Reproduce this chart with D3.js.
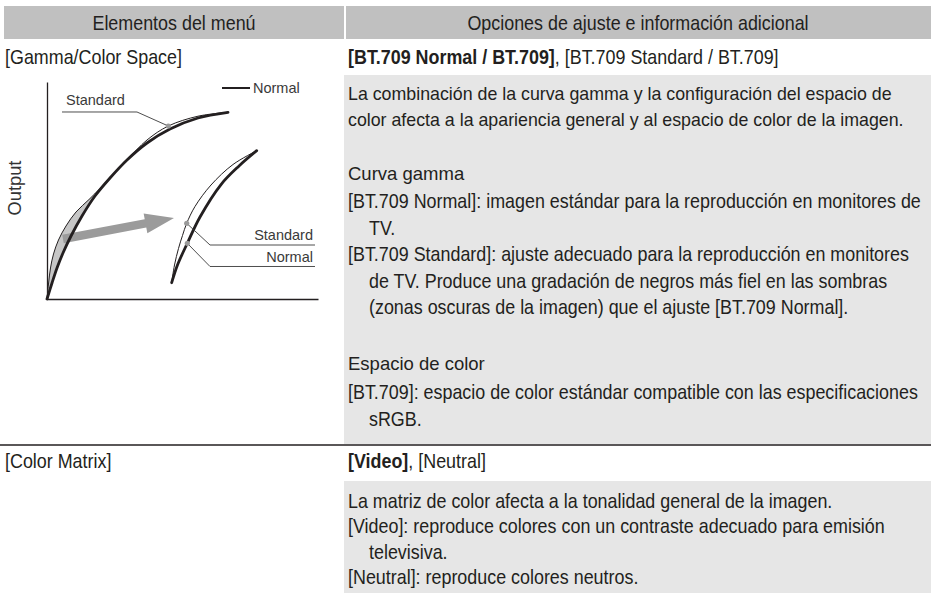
<!DOCTYPE html>
<html><head><meta charset="utf-8">
<script src="https://cdn.jsdelivr.net/npm/d3@7"></script>
<style>html,body{margin:0;padding:0;background:#fff;} svg{display:block}</style>
</head><body>
<svg id="c" width="931" height="593"></svg>
<script>
// ---------- DATA ----------
const headers = ["Elementos del menú", "Opciones de ajuste e información adicional"];
const menuItems = ["[Gamma/Color Space]", "[Color Matrix]"];
const gammaDefault = "[BT.709 Normal / BT.709]";
const gammaOthers = ", [BT.709 Standard / BT.709]";
const gammaIntro = ["La combinación de la curva gamma y la configuración del espacio de",
  "color afecta a la apariencia general y al espacio de color de la imagen."];
const gammaHeading = "Curva gamma";
const gammaItems = [
  ["[BT.709 Normal]: imagen estándar para la reproducción en monitores de", "TV."],
  ["[BT.709 Standard]: ajuste adecuado para la reproducción en monitores",
   "de TV. Produce una gradación de negros más fiel en las sombras",
   "(zonas oscuras de la imagen) que el ajuste [BT.709 Normal]."]];
const spaceHeading = "Espacio de color";
const spaceItems = [["[BT.709]: espacio de color estándar compatible con las especificaciones", "sRGB."]];
const matrixDefault = "[Video]";
const matrixOthers = ", [Neutral]";
const matrixIntro = ["La matriz de color afecta a la tonalidad general de la imagen."];
const matrixItems = [
  ["[Video]: reproduce colores con un contraste adecuado para emisión", "televisiva."],
  ["[Neutral]: reproduce colores neutros."]];

// diagram (input, output) in 0..100 units
const axisLabel = "Output";
const seriesNames = ["Normal", "Standard"];
const normalCurve = [[0,0],[1.85,7.37],[3.69,14.29],[5.90,21.20],[8.86,29.03],[12.92,38.25],[17.71,47.47],
  [23.25,55.76],[29.52,64.06],[36.90,71.89],[45.39,78.34],[55.72,83.41],[66.79,86.04]];
const standardCurve = [[0,0],[0.55,6.91],[1.29,14.29],[2.40,20.74],[4.24,27.19],[7.01,33.64],[10.70,40.09],
  [15.50,45.85],[19.56,50.92],[23.25,55.76],[29.52,64.06],[36.90,73.27],[44.76,79.72],[55.72,84.24],[66.79,86.04]];
const normalDetail = [[46.01,7.51],[48.15,15.67],[51.77,25.67],[56.46,37.79],[64.21,52.76],[70.85,61.29],[77.38,68.34]];
const standardDetail = [[46.01,7.51],[47.05,15.67],[48.52,23.27],[50.0,29.26],[51.55,34.88],[54.61,42.63],
  [60.52,52.53],[68.63,61.98],[77.38,68.34]];
const arrowTailTip = [[5.9,27.65],[46.86,37.33]];
const calloutStdMain = [[44.76,79.72],[33.21,86.18],[5.54,86.18]];
const calloutStdDetail = [[51.55,34.88],[60.15,24.88],[98.89,24.88]];
const calloutNormDetail = [[51.77,25.67],[60.15,14.98],[98.89,14.98]];

// ---------- DRAW ----------
const svg = d3.select("#c");
const INK = "#231f20";
const FAM = "'Liberation Sans', Arial, Helvetica, sans-serif";
const COND = {size: 20, sx: 0.895};
const REG = {size: 17.8, sx: 1};
const HEAD = {size: 18.5, sx: 1};

function txt(g, x, y, parts, o) {
  const t = g.append("text")
    .attr("transform", `translate(${x},${y}) scale(${o.sx || 1},1)`)
    .attr("font-family", FAM)
    .attr("font-size", o.size)
    .attr("fill", o.fill || INK)
    .attr("text-anchor", o.anchor || "start");
  parts.forEach(p => t.append("tspan").attr("font-weight", p[1] ? "bold" : "normal").text(p[0]));
  return t;
}

// header
svg.append("rect").attr("x", 4).attr("y", 6).attr("width", 340).attr("height", 33).attr("fill", "#c0c0c0");
svg.append("rect").attr("x", 346).attr("y", 6).attr("width", 585).attr("height", 33).attr("fill", "#c0c0c0");
txt(svg, 174, 30, [[headers[0]]], {...COND, anchor: "middle"});
txt(svg, 638, 30, [[headers[1]]], {...COND, anchor: "middle"});

// gray boxes + separator
svg.append("rect").attr("x", 344).attr("y", 75).attr("width", 587).attr("height", 369).attr("fill", "#e6e6e6");
svg.append("rect").attr("x", 344).attr("y", 481).attr("width", 587).attr("height", 112).attr("fill", "#e6e6e6");
svg.append("line").attr("x1", 0).attr("x2", 931).attr("y1", 445).attr("y2", 445).attr("stroke", INK).attr("stroke-width", 1.3);

// row 1
const XL = 5, XR = 348, XI = 369, L = 26.5;
txt(svg, XL, 63.5, [[menuItems[0]]], COND);
txt(svg, XR, 63.5, [[gammaDefault, true], [gammaOthers]], COND);
let y = 99.5;
gammaIntro.forEach((s, i) => { txt(svg, XR, y, [[s]], REG); if (i < gammaIntro.length - 1) y += L; });
y += 2 * L + 1;
txt(svg, XR, y, [[gammaHeading]], HEAD); y += 28;
gammaItems.forEach(item => item.forEach((s, i) => { txt(svg, i ? XI : XR, y, [[s]], COND); y += L; }));
y += L + 3;
txt(svg, XR, y, [[spaceHeading]], HEAD); y += 29;
spaceItems.forEach(item => item.forEach((s, i) => { txt(svg, i ? XI : XR, y, [[s]], COND); y += L; }));

// row 2
txt(svg, XL, 467.5, [[menuItems[1]]], COND);
txt(svg, XR, 467.5, [[matrixDefault, true], [matrixOthers]], COND);
y = 507.5;
const L2 = 25.5;
matrixIntro.forEach(s => { txt(svg, XR, y, [[s]], COND); y += L2; });
matrixItems.forEach(item => item.forEach((s, i) => { txt(svg, i ? XI : XR, y, [[s]], COND); y += L2; }));

// ---------- diagram ----------
const dx = d3.scaleLinear().domain([0, 100]).range([47, 318]);
const dy = d3.scaleLinear().domain([0, 100]).range([299, 82]);
const D = svg.append("g");

const ax = D.append("g").attr("transform", "translate(0,299)").call(d3.axisBottom(dx).ticks(0).tickSize(0).tickSizeOuter(0));
const ay = D.append("g").attr("transform", "translate(47,0)").call(d3.axisLeft(dy).ticks(0).tickSize(0).tickSizeOuter(0));
[ax, ay].forEach(a => { a.select(".domain").attr("stroke", INK).attr("stroke-width", 1.3); a.selectAll("text").remove(); });

D.append("text").attr("transform", "translate(15,188) rotate(-90)").attr("text-anchor", "middle")
  .attr("dy", "0.35em").attr("font-family", FAM).attr("font-size", 18.3).attr("fill", "#333").text(axisLabel);

const line = d3.line().x(d => dx(d[0])).y(d => dy(d[1])).curve(d3.curveCatmullRom.alpha(0.5));

// shadow fill between standard (above) and normal in the low range
const up = line(standardCurve.slice(0, 10));
const down = line(normalCurve.slice(0, 8).reverse());
D.append("path").attr("d", up + "L" + down.slice(1) + "Z").attr("fill", "#c6c6c6");

// arrow
(function () {
  const [x0, y0] = [dx(arrowTailTip[0][0]), dy(arrowTailTip[0][1])];
  const [x1, y1] = [dx(arrowTailTip[1][0]), dy(arrowTailTip[1][1])];
  const len = Math.hypot(x1 - x0, y1 - y0), ux = (x1 - x0) / len, uy = (y1 - y0) / len, nx = -uy, ny = ux;
  const hw = 4.2, hl = 29, hh = 10;
  const bx = x1 - ux * hl, by = y1 - uy * hl;
  const pts = [[x0 + nx * hw, y0 + ny * hw], [bx + nx * hw, by + ny * hw], [bx + nx * hh, by + ny * hh], [x1, y1],
    [bx - nx * hh, by - ny * hh], [bx - nx * hw, by - ny * hw], [x0 - nx * hw, y0 - ny * hw]];
  D.append("path").attr("d", "M" + pts.map(p => p.join(",")).join("L") + "Z").attr("fill", "#9b9b9b");
})();

// curves
D.append("path").attr("d", line(standardCurve)).attr("fill", "none").attr("stroke", INK).attr("stroke-width", 1);
D.append("path").attr("d", line(normalCurve)).attr("fill", "none").attr("stroke", INK).attr("stroke-width", 2.8).attr("stroke-linecap", "round");
D.append("path").attr("d", line(standardDetail)).attr("fill", "none").attr("stroke", INK).attr("stroke-width", 1);
D.append("path").attr("d", line(normalDetail)).attr("fill", "none").attr("stroke", INK).attr("stroke-width", 2.8).attr("stroke-linecap", "round");

// callouts
const poly = d3.line().x(d => dx(d[0])).y(d => dy(d[1]));
[calloutStdMain, calloutStdDetail, calloutNormDetail].forEach(c => {
  D.append("path").attr("d", poly(c)).attr("fill", "none").attr("stroke", "#3a3a3a").attr("stroke-width", 0.9);
  D.append("circle").attr("cx", dx(c[0][0])).attr("cy", dy(c[0][1])).attr("r", 2.6).attr("fill", "#9a9a9a");
});
const LBL = {size: 14.5, sx: 1, fill: "#3a3a3a"};
txt(D, dx(calloutStdMain[2][0]) + 4, dy(calloutStdMain[2][1]) - 7, [[seriesNames[1]]], LBL);
txt(D, dx(calloutStdDetail[2][0]) - 2, dy(calloutStdDetail[2][1]) - 5, [[seriesNames[1]]], {...LBL, anchor: "end"});
txt(D, dx(calloutNormDetail[2][0]) - 2, dy(calloutNormDetail[2][1]) - 4, [[seriesNames[0]]], {...LBL, anchor: "end"});

// legend
D.append("line").attr("x1", 222).attr("x2", 250).attr("y1", 88).attr("y2", 88).attr("stroke", INK).attr("stroke-width", 2);
txt(D, 253, 93, [[seriesNames[0]]], LBL);
</script>
</body></html>
